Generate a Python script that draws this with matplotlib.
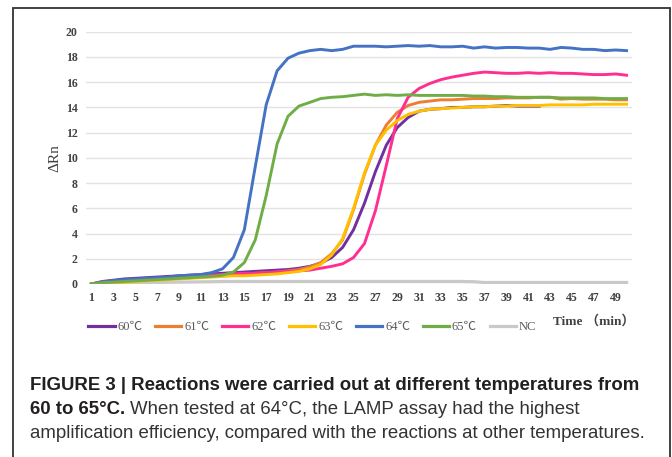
import matplotlib
matplotlib.use("Agg")
from matplotlib import pyplot as plt
from matplotlib.lines import Line2D
from matplotlib.patches import Rectangle

minutes = list(range(1, 51))
ticks = list(range(1, 50, 2))

t60 = [0, 0.2, 0.3, 0.4, 0.45, 0.5, 0.55, 0.6, 0.65, 0.7, 0.75, 0.8, 0.85, 0.9, 0.95,
       1.0, 1.05, 1.1, 1.15, 1.25, 1.4, 1.65, 2.1, 2.9, 4.3, 6.4, 8.9, 11.0, 12.4, 13.2,
       13.7, 13.85, 13.9, 14.0, 14.0, 14.05, 14.05, 14.1, 14.15, 14.1, 14.1, 14.1]
t61 = [0, 0.15, 0.2, 0.25, 0.3, 0.35, 0.4, 0.45, 0.5, 0.55, 0.6, 0.65, 0.7, 0.75, 0.8,
       0.85, 0.9, 0.95, 1.05, 1.15, 1.35, 1.7, 2.4, 3.5, 5.9, 8.7, 11.0, 12.6, 13.6, 14.15,
       14.4, 14.5, 14.6, 14.6, 14.65, 14.7, 14.7, 14.7, 14.75, 14.75, 14.75, 14.8, 14.8, 14.65,
       14.7, 14.65, 14.65, 14.65, 14.6, 14.6]
t62 = [0, 0.15, 0.25, 0.3, 0.35, 0.4, 0.45, 0.5, 0.55, 0.6, 0.65, 0.7, 0.75, 0.8, 0.85,
       0.85, 0.9, 0.95, 1.0, 1.05, 1.1, 1.25, 1.4, 1.6, 2.1, 3.2, 5.8, 9.4, 13.1, 14.8,
       15.5, 15.9, 16.2, 16.4, 16.55, 16.7, 16.8, 16.75, 16.7, 16.7, 16.75, 16.7, 16.75, 16.7,
       16.7, 16.65, 16.6, 16.6, 16.65, 16.55]
t63 = [0, 0.05, 0.1, 0.15, 0.2, 0.25, 0.3, 0.35, 0.4, 0.45, 0.5, 0.55, 0.6, 0.65, 0.65,
       0.7, 0.75, 0.8, 0.9, 1.0, 1.2, 1.55, 2.3, 3.6, 6.0, 8.8, 11.0, 12.2, 12.95, 13.45,
       13.7, 13.85, 13.9, 13.95, 14.0, 14.05, 14.05, 14.1, 14.1, 14.15, 14.15, 14.15, 14.2, 14.2,
       14.2, 14.2, 14.25, 14.25, 14.25, 14.25]
t64 = [0, 0.15, 0.25, 0.35, 0.4, 0.45, 0.5, 0.55, 0.65, 0.7, 0.75, 0.9, 1.2, 2.1, 4.3,
       9.3, 14.2, 16.9, 17.9, 18.3, 18.5, 18.6, 18.5, 18.6, 18.85, 18.85, 18.85, 18.8, 18.85, 18.9,
       18.85, 18.9, 18.8, 18.8, 18.85, 18.7, 18.8, 18.7, 18.75, 18.75, 18.7, 18.7, 18.6, 18.75,
       18.7, 18.6, 18.6, 18.5, 18.55, 18.5]
t65 = [0, 0.1, 0.15, 0.2, 0.25, 0.3, 0.35, 0.4, 0.45, 0.5, 0.55, 0.6, 0.7, 0.95, 1.7,
       3.5, 7.0, 11.1, 13.3, 14.1, 14.4, 14.7, 14.8, 14.85, 14.95, 15.05, 14.95, 15.0, 14.95, 15.0,
       14.95, 14.95, 14.95, 14.95, 14.95, 14.9, 14.9, 14.85, 14.85, 14.8, 14.8, 14.8, 14.8, 14.75,
       14.75, 14.75, 14.75, 14.7, 14.7, 14.7]
nc = [0, 0.02, 0.04, 0.06, 0.08, 0.1, 0.12, 0.14, 0.15, 0.16, 0.17, 0.18, 0.2, 0.2, 0.2,
      0.2, 0.2, 0.2, 0.2, 0.2, 0.2, 0.2, 0.2, 0.2, 0.2, 0.2, 0.2, 0.2, 0.2, 0.2,
      0.2, 0.2, 0.2, 0.2, 0.2, 0.18, 0.12, 0.12, 0.12, 0.12, 0.12, 0.12, 0.12, 0.12,
      0.12, 0.12, 0.12, 0.12, 0.12, 0.12]

labels = ["60℃", "61℃", "62℃", "63℃", "64℃", "65℃", "NC"]
series = [t60, t61, t62, t63, t64, t65, nc]
colors = ["#7030A0", "#ED7D31", "#FF2F92", "#FFC000", "#4472C4", "#70AD47", "#C9C9C9"]

fig = plt.figure(figsize=(6.72, 4.57), dpi=100)
ax = fig.add_axes([86 / 672, 1 - 284 / 457, 546 / 672, (284 - 31.7) / 457])

# nc first so it sits under the rest
ax.plot(minutes[:len(nc)], nc, color=colors[6], lw=2.3, zorder=2)
for s, c in zip(series[:6], colors[:6]):
    ax.plot(minutes[:len(s)], s, color=c, lw=2.1, zorder=3)

ax.set_xlim(0.5, 50.5)
ax.set_ylim(0, 20)
ax.set_yticks(range(0, 21, 2))
ax.set_xticks(ticks)
ax.grid(axis="y", color="#E3E3E3", lw=1)
ax.set_axisbelow(True)
for sp in ax.spines.values():
    sp.set_visible(False)
ax.tick_params(length=0, labelsize=8.5, labelcolor="#404040", pad=6)
for lab in ax.get_xticklabels() + ax.get_yticklabels():
    lab.set_family("Liberation Serif")
    lab.set_fontweight("bold")
ax.set_ylabel("ΔRn", family="Liberation Serif", fontsize=11, color="#404040", labelpad=3)

handles = [Line2D([], [], color=c, lw=2.3) for c in colors]
leg = fig.legend(handles, labels, loc="center left", bbox_to_anchor=(77 / 672, 1 - 327 / 457),
                 ncol=7, frameon=False, handlelength=2.1, handletextpad=0.25, columnspacing=1.0,
                 prop={"family": ["Liberation Serif", "Noto Sans CJK SC"], "size": 9})
for t in leg.get_texts():
    t.set_color("#595959")

fig.text(553 / 672, 1 - 321 / 457, "Time （min）", family=["Liberation Serif", "Noto Sans CJK SC"],
         fontsize=9.5, fontweight="bold", color="#404040", va="center")

# frame around the figure panel
fig.add_artist(Rectangle((13 / 672, -0.05), (670 - 13) / 672, 1.05 - 8 / 457,
                         transform=fig.transFigure, fill=False, ec="#333333", lw=1.3))

# caption
cap = dict(family="Liberation Sans", fontsize=13.4, va="baseline")
fig.text(30 / 672, 1 - 390 / 457, "FIGURE 3 | Reactions were carried out at different temperatures from",
         fontweight="bold", color="#231F20", **cap)
b = fig.text(30 / 672, 1 - 414 / 457, "60 to 65°C.", fontweight="bold", color="#231F20", **cap)
r = fig.canvas.get_renderer()
bb = b.get_window_extent(r)
fig.text(bb.x1 / fig.bbox.width + 5 / 672, 1 - 414 / 457,
         "When tested at 64°C, the LAMP assay had the highest", color="#333333", **cap)
fig.text(30 / 672, 1 - 438 / 457,
         "amplification efficiency, compared with the reactions at other temperatures.",
         color="#333333", **cap)

fig.savefig("out.png", dpi=100)
